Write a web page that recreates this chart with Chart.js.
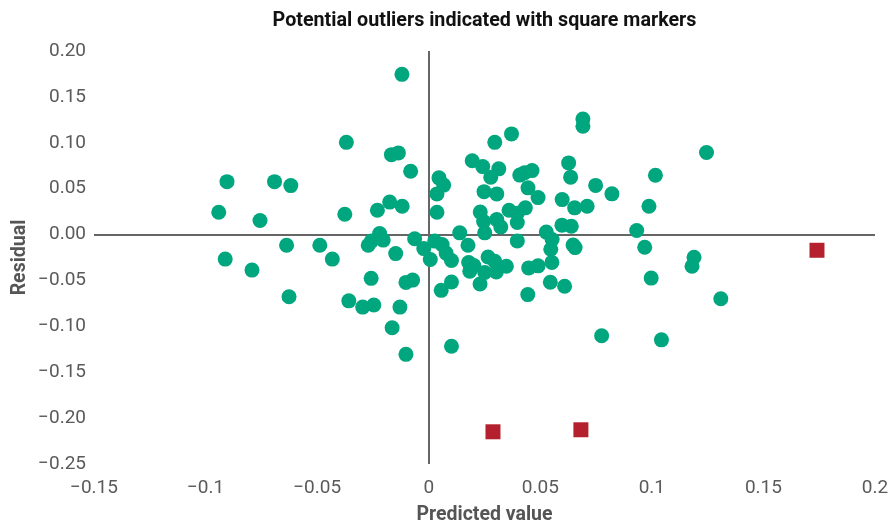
<!DOCTYPE html>
<html>
<head>
<meta charset="utf-8">
<script src="https://cdn.jsdelivr.net/npm/chart.js@4.4.0/dist/chart.umd.min.js"></script>
<style>
  html, body { margin: 0; padding: 0; background: #ffffff; }
  #wrap { width: 890px; height: 525px; }
</style>
</head>
<body>
<div id="wrap"><canvas id="c" width="890" height="525"></canvas></div>
<script>
const chartTitle = 'Potential outliers indicated with square markers';
const xAxisTitle = 'Predicted value';
const yAxisTitle = 'Residual';

const predicted = [-0.0120,-0.0369,-0.0167,-0.0136,-0.0081,-0.0904,-0.0691,-0.0618,-0.0941,-0.0756,-0.0376,-0.0230,-0.0175,-0.0119,-0.0220,-0.0257,-0.0271,-0.0204,-0.0063,-0.0148,-0.0022,-0.0637,-0.0488,-0.0912,-0.0432,-0.0792,-0.0626,-0.0258,-0.0102,-0.0072,-0.0358,-0.0296,-0.0246,-0.0129,-0.0164,-0.0102,
  0.0007,0.0056,0.0027,0.0060,0.0078,0.0102,0.0139,0.0176,0.0102,0.0102,0.0251,0.0246,0.0323,0.0397,0.0397,0.0179,0.0202,0.0184,0.0230,0.0251,0.0266,0.0296,0.0303,0.0348,0.0448,0.0490,0.0444,0.0527,0.0553,0.0547,0.0552,0.0545,0.0609,0.0597,0.0639,0.0647,0.0656,0.0046,0.0067,0.0037,0.0037,0.0195,0.0242,0.0296,0.0371,0.0314,0.0278,0.0248,0.0305,0.0408,0.0430,0.0463,0.0445,0.0490,0.0231,0.0305,0.0360,0.0397,0.0433,0.0598,0.0627,0.0636,0.0654,0.0691,0.0691,0.1245,0.0748,0.0821,0.1016,0.0987,0.0710,0.0932,0.0968,0.1189,0.1180,0.0997,0.1309,0.0775,0.1043];

const residual = [0.1746,0.1005,0.0871,0.0890,0.0690,0.0577,0.0577,0.0534,0.0243,0.0153,0.0221,0.0265,0.0354,0.0308,0.0011,-0.0071,-0.0117,-0.0060,-0.0046,-0.0207,-0.0153,-0.0117,-0.0117,-0.0267,-0.0267,-0.0387,-0.0678,-0.0477,-0.0521,-0.0496,-0.0722,-0.0790,-0.0768,-0.0790,-0.1015,-0.1305,
  -0.0272,-0.0608,-0.0071,-0.0109,-0.0202,-0.0283,0.0019,-0.0117,-0.0517,-0.1217,0.0019,0.0142,0.0082,0.0131,-0.0069,-0.0305,-0.0338,-0.0400,-0.0539,-0.0414,-0.0245,-0.0291,-0.0408,-0.0345,-0.0363,-0.0341,-0.0654,0.0027,-0.0054,-0.0160,-0.0303,-0.0520,-0.0563,0.0103,0.0090,-0.0114,-0.0142,0.0618,0.0539,0.0443,0.0243,0.0804,0.0741,0.1005,0.1097,0.0716,0.0626,0.0468,0.0443,0.0648,0.0675,0.0697,0.0509,0.0403,0.0245,0.0163,0.0265,0.0232,0.0291,0.0381,0.0781,0.0626,0.0291,0.1260,0.1180,0.0895,0.0536,0.0444,0.0646,0.0308,0.0308,0.0044,-0.0138,-0.0247,-0.0345,-0.0474,-0.0699,-0.1103,-0.1147];

const outlierPredicted = [0.1740, 0.0288, 0.0682];
const outlierResidual = [-0.0171, -0.2149, -0.2127];

const xTickLabels = ['\u22120.15', '\u22120.1', '\u22120.05', '0', '0.05', '0.1', '0.15', '0.2'];
const yTickLabels = ['\u22120.25', '\u22120.20', '\u22120.15', '\u22120.10', '\u22120.05', '0.00', '0.05', '0.10', '0.15', '0.20'];

const FONT = 'Roboto, "Liberation Sans", sans-serif';

const mainPoints = predicted.map((x, i) => ({ x: x, y: residual[i] }));
const outPoints = outlierPredicted.map((x, i) => ({ x: x, y: outlierResidual[i] }));

const zeroLine = (ctx) => (ctx.tick && Math.abs(ctx.tick.value) < 1e-9) ? '#666666' : 'rgba(0,0,0,0)';

new Chart(document.getElementById('c'), {
  type: 'scatter',
  data: {
    datasets: [
      {
        label: 'Outliers',
        data: outPoints,
        pointStyle: 'rect',
        pointRadius: 10.6,
        pointHoverRadius: 10.6,
        backgroundColor: '#b5202e',
        borderWidth: 0
      },
      {
        label: 'Observations',
        data: mainPoints,
        pointStyle: 'circle',
        pointRadius: 7.5,
        pointHoverRadius: 7.5,
        backgroundColor: '#00a67e',
        borderWidth: 0
      }
    ]
  },
  options: {
    responsive: false,
    animation: false,
    layout: { padding: { left: 0, right: 15, top: 0, bottom: 0 } },
    plugins: {
      legend: { display: false },
      tooltip: { enabled: false },
      title: {
        display: true,
        text: chartTitle,
        fullSize: false,
        color: '#111111',
        font: { family: FONT, size: 19.7, weight: 'bold', lineHeight: 1.2 },
        padding: { top: 9, bottom: 18.4 }
      }
    },
    scales: {
      x: {
        type: 'linear',
        min: -0.15,
        max: 0.2,
        border: { display: false },
        grid: { color: zeroLine, lineWidth: 2, drawTicks: false },
        ticks: {
          stepSize: 0.05,
          padding: 13,
          color: '#5a5a5a',
          font: { family: FONT, size: 19 },
          maxRotation: 0,
          autoSkip: false,
          callback: (v, i) => xTickLabels[i]
        },
        title: {
          display: true,
          text: xAxisTitle,
          color: '#555555',
          font: { family: FONT, size: 19.5, weight: 'bold', lineHeight: 1 },
          padding: { top: 0, bottom: 0 }
        },
        afterFit: (s) => { s.height = 61; s.paddingLeft = 0; s.paddingRight = 0; }
      },
      y: {
        type: 'linear',
        min: -0.25,
        max: 0.2,
        border: { display: false },
        grid: { color: zeroLine, lineWidth: 2, drawTicks: false },
        ticks: {
          stepSize: 0.05,
          padding: 8,
          color: '#5a5a5a',
          font: { family: FONT, size: 19 },
          autoSkip: false,
          callback: (v, i) => yTickLabels[i]
        },
        title: {
          display: true,
          text: yAxisTitle,
          color: '#555555',
          font: { family: FONT, size: 19.5, weight: 'bold', lineHeight: 1 },
          padding: { top: 10.5, bottom: 0 }
        },
        afterFit: (s) => { s.width = 94; }
      }
    }
  }
});
</script>
</body>
</html>
